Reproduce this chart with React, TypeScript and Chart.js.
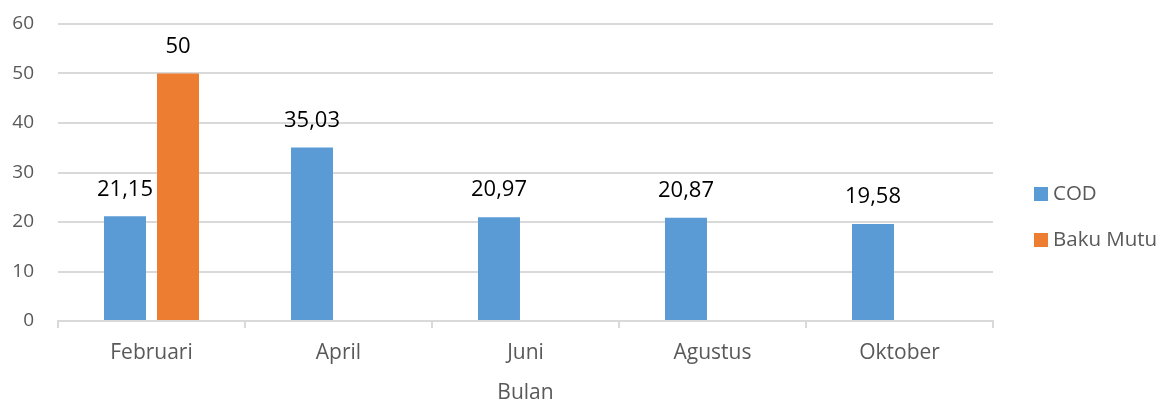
import React, { useEffect, useRef } from "react";
import { Chart, registerables } from "chart.js";

Chart.register(...registerables);

const categories = ["Februari", "April", "Juni", "Agustus", "Oktober"];
const codValues = [21.15, 35.03, 20.97, 20.87, 19.58];
const bakuMutuValues: (number | null)[] = [50, null, null, null, null];
const seriesNames = ["COD", "Baku Mutu"];
const seriesColors = ["#5B9BD5", "#ED7D31"];
const yTicks = { min: 0, max: 60, step: 10 };
const xTitle = "Bulan";

const FONT = "'Open Sans', 'Noto Sans', sans-serif";

const formatVal = (v: number) => String(v).replace(".", ",");

const dataLabelPlugin = {
  id: "dataLabels",
  afterDatasetsDraw(chart: any) {
    const ctx = chart.ctx;
    ctx.save();
    ctx.font = `22px ${FONT}`;
    ctx.fillStyle = "#000000";
    ctx.textAlign = "center";
    ctx.textBaseline = "middle";
    chart.data.datasets.forEach((ds: any, i: number) => {
      const meta = chart.getDatasetMeta(i);
      meta.data.forEach((bar: any, j: number) => {
        const v = ds.data[j];
        if (v === null || v === undefined) return;
        ctx.fillText(formatVal(v), bar.x, bar.y - 27);
      });
    });
    ctx.restore();
  },
};

const legendPlugin = {
  id: "sideLegend",
  afterDraw(chart: any) {
    const ctx = chart.ctx;
    ctx.save();
    ctx.font = `20.5px ${FONT}`;
    ctx.textBaseline = "middle";
    ctx.textAlign = "left";
    const x0 = chart.chartArea.right + 41;
    const y0 = 194;
    chart.data.datasets.forEach((ds: any, i: number) => {
      const y = y0 + i * 46;
      ctx.fillStyle = ds.backgroundColor;
      ctx.fillRect(x0, y - 7, 14, 14);
      ctx.fillStyle = "#595959";
      ctx.fillText(ds.label, x0 + 19, y);
    });
    ctx.restore();
  },
};

export default function App() {
  const ref = useRef<HTMLCanvasElement | null>(null);
  useEffect(() => {
    document.body.style.margin = "0";
    if (!ref.current) return;
    const chart = new Chart(ref.current, {
      type: "bar",
      data: {
        labels: categories,
        datasets: [
          {
            label: seriesNames[0],
            data: codValues,
            backgroundColor: seriesColors[0],
            barPercentage: 0.792,
            categoryPercentage: 0.567,
          },
          {
            label: seriesNames[1],
            data: bakuMutuValues,
            backgroundColor: seriesColors[1],
            barPercentage: 0.792,
            categoryPercentage: 0.567,
          },
        ],
      },
      options: {
        responsive: false,
        animation: false,
        devicePixelRatio: 1,
        layout: { padding: { top: 24, right: 176, left: 0, bottom: 0 } },
        plugins: {
          legend: { display: false },
          tooltip: { enabled: false },
        },
        scales: {
          x: {
            grid: {
              display: true,
              offset: true,
              drawOnChartArea: false,
              drawTicks: true,
              tickLength: 7,
              color: "#d9d9d9",
              lineWidth: 2,
            },
            border: { display: true, color: "#d9d9d9", width: 2 },
            ticks: {
              color: "#595959",
              font: { family: FONT, size: 21 },
              padding: 12,
              maxRotation: 0,
            },
            title: {
              display: true,
              text: xTitle,
              color: "#595959",
              font: { family: FONT, size: 21 },
              padding: { top: 4, bottom: -3 },
            },
            afterFit: (scale: any) => {
              scale.height = 82;
            },
          },
          y: {
            min: yTicks.min,
            max: yTicks.max,
            grid: {
              color: "#d9d9d9",
              lineWidth: 2,
              drawTicks: false,
            },
            border: { display: false },
            ticks: {
              stepSize: yTicks.step,
              color: "#595959",
              font: { family: FONT, size: 19 },
              padding: 24,
            },
            afterFit: (scale: any) => {
              scale.width = 58;
              scale.paddingTop = 0;
              scale.paddingBottom = 0;
            },
          },
        },
      },
      plugins: [dataLabelPlugin, legendPlugin],
    });
    return () => chart.destroy();
  }, []);
  return (
    <div style={{ width: 1169, height: 403 }}>
      <canvas ref={ref} width={1169} height={403} />
    </div>
  );
}
